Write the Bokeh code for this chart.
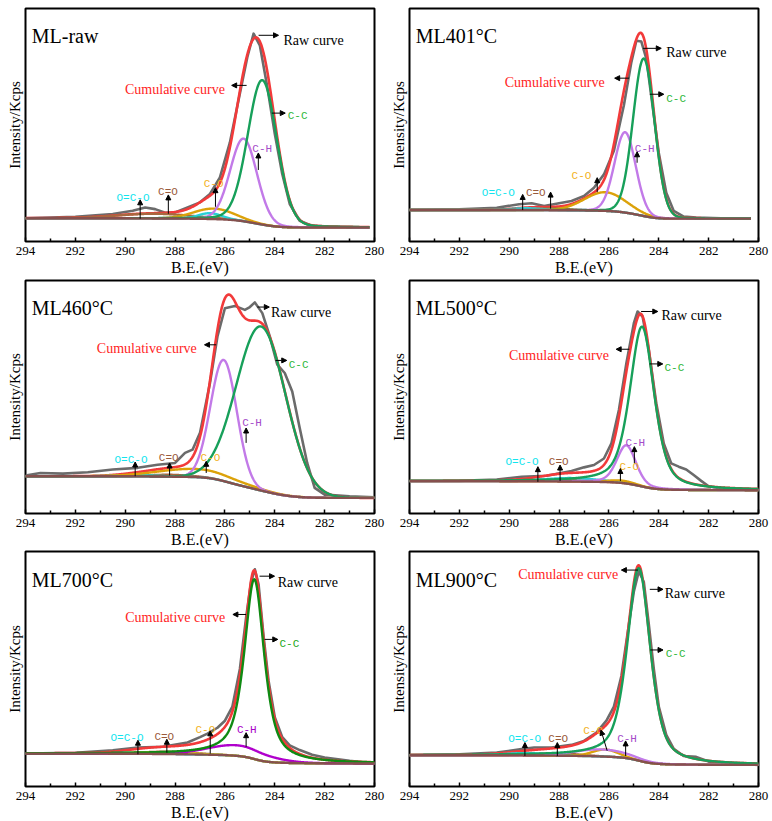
import numpy as np
from bokeh.plotting import figure
from bokeh.models import Range1d, FixedTicker, Label, Arrow, NormalHead
from bokeh.layouts import column, row
from bokeh.embed import file_html
from bokeh.resources import INLINE

# ---------------------------------------------------------------- data
BE_TICKS = [294, 292, 290, 288, 286, 284, 282, 280]
BE_MINOR = [293, 291, 289, 287, 285, 283, 281]
COMPONENTS = ["C-C", "C-H", "C-O", "O=C-O", "C=O"]

# ML-raw : measured C 1s spectrum and fitted components
mlraw_raw_be = [294.0, 292.0, 290.5, 289.7, 289.2, 288.8, 288.4, 288.0, 287.5, 287.0,
                286.6, 286.2, 285.8, 285.4, 285.1, 284.85, 284.6, 284.3, 284.0, 283.7,
                283.4, 283.0, 282.5, 281.5, 280.2]
mlraw_raw_int = [10.0, 10.6, 11.8, 13.2, 14.6, 13.9, 12.3, 12.5, 14.6, 16.8,
                 20.4, 27.5, 42.5, 63.5, 79.2, 89.2, 84.2, 66.3, 46.2, 29.0,
                 16.1, 8.9, 6.7, 6.3, 6.0]
mlraw_center = [284.50, 285.25, 286.45, 286.60, 288.80]
mlraw_fwhm = [1.38, 1.26, 1.90, 1.10, 3.50]
mlraw_height = [62.0, 35.5, 4.5, 2.5, 2.0]
mlraw_lorentz = [0.10, 0.05, 0.0, 0.0, 0.0]
mlraw_bg_ends = [10.0, 6.0]

# ML401°C
ml401_raw_be = [294.0, 292.0, 290.5, 289.6, 289.1, 288.6, 288.0, 287.5, 287.0, 286.6,
                286.2, 285.8, 285.4, 285.1, 284.9, 284.7, 284.5, 284.3, 284.0, 283.7,
                283.4, 283.0, 282.5, 281.5, 280.3]
ml401_raw_int = [13.5, 13.8, 14.5, 16.0, 16.4, 15.2, 16.4, 17.4, 19.5, 23.1,
                 28.8, 39.0, 58.5, 77.0, 86.2, 85.8, 78.5, 62.3, 38.0, 20.9,
                 13.1, 10.7, 10.3, 10.0, 9.8]
ml401_center = [284.60, 285.35, 286.15, 289.30, 288.30]
ml401_fwhm = [1.02, 1.00, 1.95, 1.50, 1.50]
ml401_height = [67.6, 34.5, 8.0, 0.8, 0.8]
ml401_lorentz = [0.05, 0.05, 0.0, 0.0, 0.0]
ml401_bg_ends = [13.5, 9.8]

# ML460°C
ml460_raw_be = [294.0, 293.4, 292.5, 291.5, 290.5, 289.5, 288.7, 288.0, 287.6, 287.3,
                287.0, 286.6, 286.3, 286.0, 285.6, 285.2, 285.0, 284.8, 284.5, 284.2,
                283.9, 283.6, 283.3, 283.0, 282.7, 282.4, 282.0, 281.0, 280.0]
ml460_raw_int = [16.3, 17.4, 17.1, 17.7, 18.9, 19.6, 20.9, 21.7, 26.0, 27.4,
                 34.6, 56.0, 76.0, 88.1, 89.1, 87.4, 88.6, 90.6, 86.0, 76.0,
                 63.9, 60.3, 52.4, 36.7, 21.7, 11.0, 8.1, 7.4, 7.0]
ml460_center = [284.55, 286.05, 287.20, 289.50, 288.20]
ml460_fwhm = [2.34, 1.24, 3.50, 2.00, 2.00]
ml460_height = [70.4, 52.0, 3.5, 0.5, 0.8]
ml460_lorentz = [0.0, 0.0, 0.0, 0.0, 0.0]
ml460_bg_ends = [16.0, 6.7]

# ML500°C
ml500_raw_be = [294.0, 292.0, 290.5, 289.5, 288.5, 287.5, 287.0, 286.6, 286.2, 285.9,
                285.6, 285.3, 285.0, 284.85, 284.65, 284.4, 284.1, 283.8, 283.5, 283.2,
                282.9, 282.6, 282.3, 282.0, 281.5, 280.5, 280.0]
ml500_raw_int = [13.9, 14.0, 14.6, 15.8, 16.2, 18.2, 19.8, 20.8, 23.6, 30.1,
                 44.4, 64.5, 81.7, 86.7, 84.5, 70.2, 47.3, 30.1, 21.5, 20.1,
                 18.9, 16.5, 14.0, 11.7, 10.7, 10.5, 10.3]
ml500_center = [284.67, 285.30, 285.50, 287.50, 288.00]
ml500_fwhm = [1.15, 0.90, 1.20, 2.50, 2.00]
ml500_height = [68.6, 16.4, 1.0, 1.5, 0.8]
ml500_lorentz = [0.50, 0.30, 0.0, 0.0, 0.0]
ml500_bg_ends = [13.9, 10.0]

# ML700°C
ml700_raw_be = [294.0, 292.0, 290.5, 289.5, 288.5, 287.5, 287.0, 286.7, 286.3, 286.0,
                285.7, 285.4, 285.15, 284.95, 284.8, 284.65, 284.45, 284.25, 284.0, 283.7,
                283.4, 283.0, 282.5, 282.0, 281.0, 280.0]
ml700_raw_int = [14.0, 14.3, 15.4, 16.6, 16.9, 18.7, 21.0, 22.5, 25.0, 28.0,
                 34.0, 50.0, 72.0, 87.0, 92.4, 86.0, 64.0, 45.0, 29.5, 21.0,
                 17.5, 15.5, 13.5, 12.3, 10.9, 9.8]
ml700_center = [284.82, 285.50, 288.50, 289.50, 288.30]
ml700_fwhm = [0.95, 2.80, 2.50, 2.00, 2.50]
ml700_height = [76.5, 4.5, 0.8, 0.5, 1.0]
ml700_lorentz = [0.70, 0.0, 0.0, 0.0, 0.0]
ml700_bg_ends = [14.0, 9.8]

# ML900°C
ml900_raw_be = [294.0, 292.0, 290.5, 289.5, 289.0, 288.3, 287.5, 287.0, 286.5, 286.1,
                285.8, 285.5, 285.2, 285.0, 284.8, 284.6, 284.4, 284.2, 284.0, 283.7,
                283.4, 283.0, 282.5, 282.0, 281.0, 280.0]
ml900_raw_int = [13.3, 13.7, 14.4, 15.9, 16.6, 16.6, 17.7, 19.4, 22.9, 28.0,
                 34.0, 47.0, 69.0, 83.0, 91.6, 87.0, 69.0, 50.0, 34.0, 22.0,
                 16.0, 13.0, 12.6, 10.6, 9.8, 9.2]
ml900_center = [284.80, 286.30, 286.15, 289.30, 288.10]
ml900_fwhm = [1.10, 2.50, 1.20, 2.00, 2.00]
ml900_height = [81.9, 3.0, 3.0, 1.0, 1.0]
ml900_lorentz = [0.55, 0.0, 0.0, 0.0, 0.0]
ml900_bg_ends = [13.3, 9.2]

# ---------------------------------------------------------------- styles
SERIF = "Liberation Serif"
MONO = "Liberation Mono"
RAW_COLOR = "#6b6b6b"
FIT_COLOR = "#f23a3a"
BG_COLOR = "#86504e"
LINE_COLORS = {"C-C": "#17a05a", "C-H": "#c27ae8", "C-O": "#dca20a",
               "O=C-O": "#2ad0d6", "C=O": "#a8683f"}
TEXT_COLORS = {"C-C": "#2fb83c", "C-H": "#a54cc9", "C-O": "#f2b21e",
               "O=C-O": "#12e4ee", "C=O": "#9a5a3a"}
ML700_LINES = dict(LINE_COLORS, **{"C-C": "#0f8a12", "C-H": "#b000cc", "C-O": "#e2d81c"})
ML700_TEXT = dict(TEXT_COLORS, **{"C-C": "#22a822", "C-H": "#a800c8"})

# annotation layout: (text, x, y, align) and arrows (x0, y0, x1, y1)
mlraw_notes = [("Raw curve", 283.65, 86.4, "left"), ("Cumulative curve", 286.0, 65.1, "right"),
               ("C-C", 283.48, 53.7, "left"), ("C-H", 284.90, 39.5, "left"),
               ("C-O", 286.85, 24.8, "left"), ("O=C-O", 290.35, 18.8, "left"),
               ("C=O", 288.68, 21.3, "left")]
mlraw_arrows = [(284.65, 88.5, 283.85, 88.5), (285.13, 67.0, 285.73, 67.0),
                (284.12, 55.1, 283.58, 55.1), (284.66, 30.7, 284.66, 38.0),
                (286.38, 14.9, 286.38, 23.1), (289.40, 9.8, 289.40, 17.9),
                (288.27, 11.9, 288.27, 20.0)]
ml401_notes = [("Raw curve", 283.70, 81.2, "left"), ("Cumulative curve", 286.17, 68.2, "right"),
               ("C-C", 283.70, 61.1, "left"), ("C-H", 284.96, 39.7, "left"),
               ("C-O", 287.50, 28.1, "left"), ("O=C-O", 291.10, 20.7, "left"),
               ("C=O", 289.33, 20.7, "left")]
ml401_arrows = [(284.63, 82.9, 283.90, 82.9), (285.19, 70.1, 285.77, 70.1),
                (284.36, 63.2, 283.80, 63.2), (284.87, 33.8, 284.87, 38.5),
                (286.47, 21.2, 286.47, 27.4), (289.46, 13.5, 289.46, 20.2),
                (288.34, 14.1, 288.34, 21.2)]
ml460_notes = [("Raw curve", 284.15, 86.3, "left"), ("Cumulative curve", 287.13, 71.0, "right"),
               ("C-C", 283.44, 63.9, "left"), ("C-H", 285.31, 38.9, "left"),
               ("C-O", 286.98, 23.9, "left"), ("O=C-O", 290.43, 22.9, "left"),
               ("C=O", 288.65, 23.9, "left")]
ml460_arrows = [(284.70, 88.6, 284.22, 88.6), (286.35, 72.4, 286.82, 72.4),
                (283.97, 65.7, 283.52, 65.7), (285.15, 30.3, 285.15, 36.7),
                (286.75, 17.4, 286.75, 22.4), (289.60, 16.0, 289.60, 22.1),
                (288.22, 16.3, 288.22, 21.7)]
ml500_notes = [("Raw curve", 283.89, 84.8, "left"), ("Cumulative curve", 286.00, 67.6, "right"),
               ("C-C", 283.77, 62.3, "left"), ("C-H", 285.34, 30.4, "left"),
               ("C-O", 285.58, 19.8, "left"), ("O=C-O", 290.15, 22.2, "left"),
               ("C=O", 288.41, 22.2, "left")]
ml500_arrows = [(284.71, 86.7, 284.04, 86.7), (285.18, 70.5, 285.71, 70.5),
                (284.37, 64.2, 283.84, 64.2), (284.98, 21.5, 284.98, 28.7),
                (285.54, 14.0, 285.54, 19.3), (288.85, 13.6, 288.85, 20.1),
                (287.96, 14.0, 287.96, 20.8)]
ml700_notes = [("Raw curve", 283.88, 86.7, "left"), ("Cumulative curve", 285.99, 72.1, "right"),
               ("C-C", 283.81, 60.8, "left"), ("C-H", 285.52, 23.9, "left"),
               ("C-O", 287.18, 24.1, "left"), ("O=C-O", 290.59, 20.8, "left"),
               ("C=O", 288.83, 21.1, "left")]
ml700_arrows = [(284.61, 89.5, 284.01, 89.5), (285.15, 73.2, 285.68, 73.2),
                (284.41, 62.6, 283.88, 62.6), (285.15, 16.9, 285.15, 22.9),
                (286.59, 14.0, 286.59, 23.7), (289.49, 13.7, 289.49, 19.7),
                (288.33, 14.4, 288.33, 20.1)]
ml900_notes = [("Cumulative curve", 289.64, 90.2, "left"), ("Raw curve", 283.76, 82.0, "left"),
               ("C-C", 283.72, 56.5, "left"), ("C-H", 285.67, 20.1, "left"),
               ("C-O", 287.03, 23.7, "left"), ("O=C-O", 290.04, 20.1, "left"),
               ("C=O", 288.43, 20.1, "left")]
ml900_arrows = [(284.83, 92.1, 285.50, 92.1), (284.36, 83.9, 283.83, 83.9),
                (284.34, 58.1, 283.83, 58.1), (285.33, 13.0, 285.33, 19.4),
                (286.07, 15.2, 286.32, 24.0), (289.37, 13.0, 289.37, 18.7),
                (288.07, 13.0, 288.07, 18.7)]


def pseudo_voigt(e, center, fwhm, height, eta):
    u = ((e - center) / fwhm) ** 2
    return height * (eta / (1.0 + 4.0 * u) + (1.0 - eta) * np.exp(-4.0 * np.log(2.0) * u))


def panel(title, raw_be, raw_int, centers, fwhms, heights, lorentz, bg_ends,
          notes, arrows, be_low, line_colors, text_colors, borders, frame_h):
    left, right, top, bottom = borders
    p = figure(frame_width=349, frame_height=frame_h,
               x_range=Range1d(294, 280), y_range=Range1d(0, 100),
               output_backend="svg", toolbar_location=None,
               min_border_left=left, min_border_right=right,
               min_border_top=top, min_border_bottom=bottom,
               background_fill_color="white", border_fill_color="white")
    p.outline_line_color = "black"
    p.outline_line_width = 2
    p.outline_line_alpha = 1.0
    p.xgrid.visible = False
    p.ygrid.visible = False

    xa = p.xaxis[0]
    xa.ticker = FixedTicker(ticks=BE_TICKS, minor_ticks=BE_MINOR)
    xa.axis_line_color = None
    xa.major_tick_in = 4
    xa.major_tick_out = 0
    xa.minor_tick_in = 3
    xa.minor_tick_out = 0
    xa.major_tick_line_color = "black"
    xa.minor_tick_line_color = "black"
    xa.major_tick_line_width = 1.5
    xa.minor_tick_line_width = 1.5
    xa.major_label_text_font = SERIF
    xa.major_label_text_font_size = "13px"
    xa.major_label_text_color = "black"
    xa.major_label_standoff = 5
    xa.axis_label = "B.E.(eV)"
    xa.axis_label_text_font = SERIF
    xa.axis_label_text_font_size = "16px"
    xa.axis_label_text_font_style = "normal"
    xa.axis_label_text_color = "black"
    xa.axis_label_standoff = 1

    ya = p.yaxis[0]
    ya.ticker = FixedTicker(ticks=[])
    ya.axis_line_color = None
    ya.major_tick_in = 0
    ya.major_tick_out = 0
    ya.minor_tick_in = 0
    ya.minor_tick_out = 0
    ya.major_label_text_font_size = "0px"
    ya.axis_label = "Intensity/Kcps"
    ya.axis_label_text_font = SERIF
    ya.axis_label_text_font_size = "15px"
    ya.axis_label_text_font_style = "normal"
    ya.axis_label_text_color = "black"
    ya.axis_label_standoff = 3

    # fitted envelope: components on a Shirley-type background
    e = np.linspace(be_low, 294.0, 800)
    comps = [pseudo_voigt(e, c, w, h, m)
             for c, w, h, m in zip(centers, fwhms, heights, lorentz)]
    total = np.sum(comps, axis=0)
    area = np.concatenate([[0.0], np.cumsum(0.5 * (total[1:] + total[:-1]) * np.diff(e))])
    bg = bg_ends[1] + (bg_ends[0] - bg_ends[1]) * area / area[-1]

    p.line(raw_be, raw_int, line_color=RAW_COLOR, line_width=2.6, line_join="round")
    p.line(e, bg + total, line_color=FIT_COLOR, line_width=2.6, line_join="round")
    for idx in [4, 3, 2, 1, 0]:
        name = COMPONENTS[idx]
        p.line(e, bg + comps[idx], line_color=line_colors[name], line_width=2.4,
               line_join="round")
    p.line(e, bg, line_color=BG_COLOR, line_width=2.4, line_join="round")

    p.add_layout(Label(x=293.75, y=88.0, text=title, text_font=SERIF,
                       text_font_size="20px", text_color="black",
                       text_baseline="alphabetic", text_align="left"))
    for (txt, x, y, align), (x0, y0, x1, y1) in zip(notes, arrows):
        if txt == "Raw curve":
            color, font, size = "black", SERIF, "14px"
        elif txt == "Cumulative curve":
            color, font, size = "#ff2424", SERIF, "14px"
        else:
            color, font, size = text_colors[txt], MONO, "11px"
        p.add_layout(Label(x=x, y=y, text=txt, text_font=font, text_font_size=size,
                           text_color=color, text_baseline="alphabetic",
                           text_align=align))
        p.add_layout(Arrow(x_start=x0, y_start=y0, x_end=x1, y_end=y1,
                           line_color="black", line_width=1,
                           end=NormalHead(size=5, fill_color="black",
                                          line_color="black", line_width=1)))
    return p


LEFT_COL = (25, 12)
RIGHT_COL = (23, 14)

p1 = panel("ML-raw", mlraw_raw_be, mlraw_raw_int, mlraw_center, mlraw_fwhm, mlraw_height,
           mlraw_lorentz, mlraw_bg_ends, mlraw_notes, mlraw_arrows, 280.2,
           LINE_COLORS, TEXT_COLORS, LEFT_COL + (8, 36), 233)
p2 = panel("ML401°C", ml401_raw_be, ml401_raw_int, ml401_center, ml401_fwhm, ml401_height,
           ml401_lorentz, ml401_bg_ends, ml401_notes, ml401_arrows, 280.3,
           LINE_COLORS, TEXT_COLORS, RIGHT_COL + (8, 36), 233)
p3 = panel("ML460°C", ml460_raw_be, ml460_raw_int, ml460_center, ml460_fwhm, ml460_height,
           ml460_lorentz, ml460_bg_ends, ml460_notes, ml460_arrows, 280.0,
           LINE_COLORS, TEXT_COLORS, LEFT_COL + (2, 34), 233)
p4 = panel("ML500°C", ml500_raw_be, ml500_raw_int, ml500_center, ml500_fwhm, ml500_height,
           ml500_lorentz, ml500_bg_ends, ml500_notes, ml500_arrows, 280.0,
           LINE_COLORS, TEXT_COLORS, RIGHT_COL + (2, 34), 233)
p5 = panel("ML700°C", ml700_raw_be, ml700_raw_int, ml700_center, ml700_fwhm, ml700_height,
           ml700_lorentz, ml700_bg_ends, ml700_notes, ml700_arrows, 280.0,
           ML700_LINES, ML700_TEXT, LEFT_COL + (1, 39), 235)
p6 = panel("ML900°C", ml900_raw_be, ml900_raw_int, ml900_center, ml900_fwhm, ml900_height,
           ml900_lorentz, ml900_bg_ends, ml900_notes, ml900_arrows, 280.0,
           LINE_COLORS, TEXT_COLORS, RIGHT_COL + (1, 39), 235)

layout = column(row(p1, p2, spacing=0), row(p3, p4, spacing=0),
                row(p5, p6, spacing=0), spacing=0)

open("out.html", "w").write(file_html(layout, INLINE))
